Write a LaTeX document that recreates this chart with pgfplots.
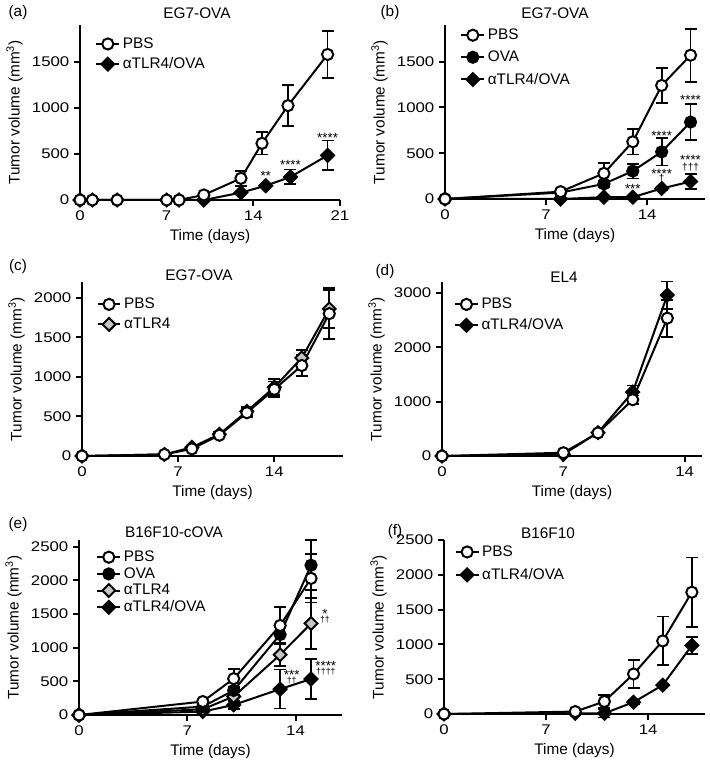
\documentclass[border=0pt]{standalone}
\usepackage{fontspec}
\setmainfont{Liberation Sans}
\newfontfamily\tickfont[FakeStretch=1.2]{Liberation Sans}
\usepackage{pgfplots}
\pgfplotsset{compat=1.18}

\newcommand\fs[1]{\fontsize{#1}{#1}\selectfont}
% stars over daggers, kerned tight
\newcommand\sd[3]{\vbox{\offinterlineskip\halign{\hfil##\hfil\cr #1\cr\noalign{\kern#3}#2\cr}}}

\pgfplotsset{
  tv/.style={
    scale only axis, clip=false,
    axis lines=left, axis line style={-, line width=1.5pt},
    tick align=outside, major tick length=4.5pt,
    tick style={line width=1.5pt, black},
    xmin=0, ymin=0,
    font=\fontsize{11.5}{13}\selectfont,
    xticklabel style={font=\tickfont\fontsize{10.5}{12}\selectfont},
    yticklabel style={font=\tickfont\fontsize{10.5}{12}\selectfont},
    xlabel style={font=\fontsize{11.5}{13}\selectfont},
    ylabel style={font=\fontsize{11.5}{13}\selectfont},
    /pgf/number format/assume math mode=true,
    /pgf/number format/set thousands separator={},
    xlabel={Time (days)},
    ylabel={Tumor volume (mm\textsuperscript{3})},
    legend cell align=left,
    legend style={draw=none, fill=none, anchor=north west,
      font=\fontsize{11.5}{13}\selectfont, row sep=1.5pt},
    reverse legend,
    error bars/y dir=both, error bars/y explicit,
    error bars/error bar style={line width=1.3pt, black},
    error bars/error mark options={rotate=90, mark size=4.5pt, line width=1.3pt, black},
  },
  pbs/.style={black, line width=1.5pt, mark=*, mark size=4.2pt, mark options={fill=white}},
  ova/.style={black, line width=1.5pt, mark=*, mark size=4.2pt, mark options={fill=black}},
  tlro/.style={black, line width=1.5pt, mark=square*, mark size=3.4pt, mark options={fill=black, rotate=45}},
  tlr/.style={black, line width=1.5pt, mark=square*, mark size=3.4pt, mark options={fill=gray!45, rotate=45}},
}
\tikzset{st/.style={font=\fs{10}, inner sep=0pt, anchor=north}}

\begin{document}
\begin{tikzpicture}
\path[use as bounding box] (0,0) rectangle (531.75pt,-574.5pt);

% (a)
\begin{axis}[tv, at={(60pt,-150pt)}, anchor=south west, width=195pt, height=131.25pt,
  xmax=21, ymax=1900, xtick={0,7,14,21}, ytick={0,500,1000,1500},
  legend style={at={(axis description cs:0.043,0.96)}}]
\addplot[tlro] coordinates {(0,0) (1,0) (3,0) (7,0) (8,0) (10,0) (13,80) (15,155) (17,250) +- (0,80) (20,485) +- (0,160)};
\addplot[pbs] coordinates {(0,0) (1,0) (3,0) (7,0) (8,0) (10,55) +- (0,15) (13,235) +- (0,80) (14.7,615) +- (0,120) (16.8,1025) +- (0,220) (20,1580) +- (0,255)};
\legend{αTLR4/OVA, PBS}
\node[st] at (axis cs:15,310) {**};
\node[st] at (axis cs:17,430) {****};
\node[st] at (axis cs:20,730) {****};
\end{axis}

% (b)
\begin{axis}[tv, at={(333.75pt,-149.25pt)}, anchor=south west, width=195pt, height=130.5pt,
  xmax=18, ymax=1900, xtick={0,7,14}, ytick={0,500,1000,1500},
  legend style={at={(axis description cs:0.043,1.01)}, row sep=3pt}]
\addplot[tlro] coordinates {(0,0) (8,0) (11,20) (13,20) (15,115) +- (0,20) (17,190) +- (0,80)};
\addplot[ova] coordinates {(0,0) (8,70) (11,165) +- (0,30) (13,305) +- (0,80) (15,515) +- (0,150) (17,840) +- (0,195)};
\addplot[pbs] coordinates {(0,0) (8,80) +- (0,20) (11,280) +- (0,110) (13,625) +- (0,140) (15,1240) +- (0,190) (17,1570) +- (0,290)};
\legend{αTLR4/OVA, OVA, PBS}
\node[st] at (axis cs:13,160) {***};
\node[st] at (axis cs:15,329) {\sd{****}{\fs{7.5}†}{-3.2pt}};
\node[st] at (axis cs:15,742) {****};
\node[st] at (axis cs:17,1130) {****};
\node[st] at (axis cs:17,478) {\sd{****}{\fs{7.5}†††}{-1.4pt}};
\end{axis}

% (c)
\begin{axis}[tv, at={(61.5pt,-342pt)}, anchor=south west, width=195.75pt, height=130.5pt,
  xmax=19, ymax=2200, xtick={0,7,14}, ytick={0,500,1000,1500,2000},
  legend style={at={(axis description cs:0.04,0.94)}}]
\addplot[tlr] coordinates {(0,0) (6,20) (8,110) +- (0,20) (10,275) +- (0,30) (12,565) +- (0,60) (14,870) +- (0,100) (16,1240) +- (0,100) (18,1860) +- (0,240)};
\addplot[pbs] coordinates {(0,0) (6,20) (8,90) +- (0,15) (10,263) +- (0,30) (12,547) +- (0,60) (14,843) +- (0,100) (16,1144) +- (0,130) (18,1800) +- (0,320)};
\legend{αTLR4, PBS}
\end{axis}

% (d)
\begin{axis}[tv, at={(331.5pt,-342pt)}, anchor=south west, width=195pt, height=130.5pt,
  xmax=15, ymax=3200, xtick={0,7,14}, ytick={0,1000,2000,3000},
  legend style={at={(axis description cs:0.03,0.94)}, row sep=2pt}]
\addplot[tlro] coordinates {(0,0) (7,30) (9,430) (11,1175) +- (0,120) (13,2960) +- (0,250)};
\addplot[pbs] coordinates {(0,0) (7,60) (9,425) (11,1035) +- (0,80) (13,2535) +- (0,340)};
\legend{αTLR4/OVA, PBS}
\end{axis}

% (e)
\begin{axis}[tv, at={(59.25pt,-536.25pt)}, anchor=south west, width=197.25pt, height=131.25pt,
  xmax=17, ymax=2600, xtick={0,7,14}, ytick={0,500,1000,1500,2000,2500},
  legend style={at={(axis description cs:0.05,0.97)}, row sep=-1pt}]
\addplot[tlro] coordinates {(0,0) (8,50) (10,150) +- (0,60) (13,385) +- (0,290) (15,535) +- (0,300)};
\addplot[tlr] coordinates {(0,0) (8,85) (10,275) (13,895) +- (0,170) (15,1360) +- (0,380)};
\addplot[ova] coordinates {(0,0) (8,125) (10,365) +- (0,60) (13,1195) +- (0,120) (15,2225) +- (0,370)};
\addplot[pbs] coordinates {(0,0) (8,200) (10,540) +- (0,140) (13,1330) +- (0,270) (15,2030) +- (0,360)};
\legend{αTLR4/OVA, αTLR4, OVA, PBS}
\node[st] at (axis cs:15.9,1580) {\sd{*}{\fs{6.5}††}{-1.2pt}};
\node[st] at (axis cs:15.95,797) {\sd{****}{\fs{6.5}††††}{-1.75pt}};
\node[st] at (axis cs:13.75,662) {\sd{***}{\fs{6.5}††}{-2.25pt}};
\end{axis}

% (f)
\begin{axis}[tv, at={(333pt,-535.5pt)}, anchor=south west, width=195.75pt, height=130.5pt,
  xmax=17.9, ymax=2500, xtick={0,7,14}, ytick={0,500,1000,1500,2000,2500},
  legend style={at={(axis description cs:0.025,1.0)}, row sep=3.5pt}]
\addplot[tlro] coordinates {(0,0) (9,10) (11,10) +- (0,60) (13,170) +- (0,30) (15,415) +- (0,20) (17,985) +- (0,120)};
\addplot[pbs] coordinates {(0,0) (9,35) (11,180) +- (0,90) (13,575) +- (0,205) (15,1050) +- (0,350) (17,1750) +- (0,500)};
\legend{αTLR4/OVA, PBS}
\end{axis}

\begin{scope}[x=0.75pt, y=-0.75pt, font=\fontsize{11.5}{13}\selectfont]
\node at (18,13) {(a)};
\node at (197,13) {EG7-OVA};
\node at (390,13) {(b)};
\node at (555,13) {EG7-OVA};
\node at (18,267) {(c)};
\node at (199,275) {EG7-OVA};
\node at (385,272) {(d)};
\node at (564,277) {EL4};
\node at (18,525) {(e)};
\node at (174,532) {B16F10-cOVA};
\node at (395,532) {(f)};
\node at (548,533) {B16F10};
\end{scope}
\end{tikzpicture}
\end{document}
